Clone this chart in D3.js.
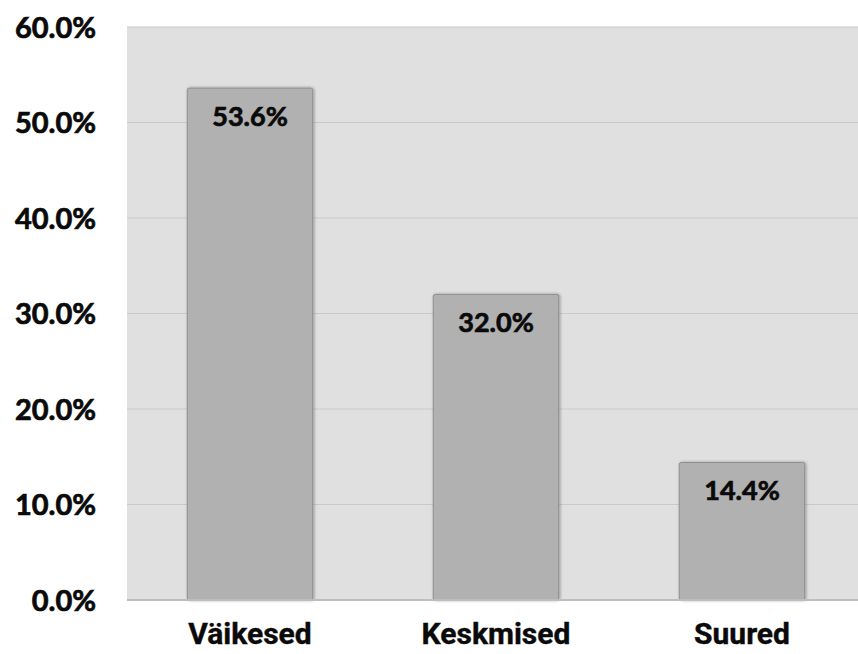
<!DOCTYPE html>
<html>
<head>
<meta charset="utf-8">
<script src="https://cdn.jsdelivr.net/npm/d3@7"></script>
<style>
  html, body { margin: 0; padding: 0; background: #fff; }
  svg { display: block; }
  .ytick text { font-family: Lato, "Open Sans", sans-serif; font-weight: 700; font-size: 29px; fill: #0a0a0a; stroke: #0a0a0a; stroke-width: 0.7px; }
  .xlab { font-family: Roboto, sans-serif; font-weight: 700; font-size: 30px; fill: #0a0a0a; stroke: #0a0a0a; stroke-width: 0.4px; }
  .val { font-family: Lato, "Open Sans", sans-serif; font-weight: 700; font-size: 27px; fill: #0a0a0a; stroke: #0a0a0a; stroke-width: 0.7px; }
</style>
</head>
<body>
<svg id="chart" width="858" height="654"></svg>
<script>
// data
const categories = ['Väikesed', 'Keskmised', 'Suured'];
const shares = [53.6, 32.0, 14.4];
const yTicks = [0, 10, 20, 30, 40, 50, 60];

const W = 858, H = 654;
const m = { left: 127, top: 27, right: -7, bottom: 54 };
const svg = d3.select('#chart');

const x = d3.scaleBand().domain(categories).range([m.left, W - m.right]).paddingInner(0.49).paddingOuter(0.245);
const y = d3.scaleLinear().domain([0, 60]).range([H - m.bottom, m.top]);

const defs = svg.append('defs');
const f = defs.append('filter').attr('id', 'shadow').attr('x', '-10%').attr('y', '-10%').attr('width', '120%').attr('height', '120%');
f.append('feDropShadow').attr('dx', 1).attr('dy', 0).attr('stdDeviation', 1.5).attr('flood-color', '#000').attr('flood-opacity', 0.35);

// plot background
svg.append('rect')
  .attr('x', m.left).attr('y', y(60))
  .attr('width', W - m.left).attr('height', y(0) - y(60))
  .attr('fill', '#e0e0e0');

// gridlines
svg.append('g').selectAll('line').data(yTicks.filter(d => d > 0)).join('line')
  .attr('x1', m.left).attr('x2', W)
  .attr('y1', d => y(d)).attr('y2', d => y(d))
  .attr('stroke', '#c9c9c9').attr('stroke-width', 1.2);

// bars
svg.append('g').selectAll('rect').data(shares).join('rect')
  .attr('x', (d, i) => x(categories[i]))
  .attr('y', d => y(d))
  .attr('width', x.bandwidth())
  .attr('height', d => y(0) - y(d))
  .attr('rx', 2)
  .attr('fill', '#b1b1b1')
  .attr('stroke', '#8e8e8e')
  .attr('stroke-width', 1)
  .attr('filter', 'url(#shadow)');

// baseline
svg.append('line')
  .attr('x1', m.left).attr('x2', W)
  .attr('y1', y(0)).attr('y2', y(0))
  .attr('stroke', '#bdbdbd').attr('stroke-width', 2);

// value labels
svg.append('g').selectAll('text').data(shares).join('text')
  .attr('class', 'val')
  .attr('x', (d, i) => x(categories[i]) + x.bandwidth() / 2)
  .attr('y', d => y(d) + 38)
  .attr('text-anchor', 'middle')
  .text(d => d.toFixed(1) + '%');

// y axis labels
const yAxis = svg.append('g')
  .attr('class', 'ytick')
  .attr('transform', `translate(${m.left},0)`)
  .call(d3.axisLeft(y).tickValues(yTicks).tickFormat(d => d.toFixed(1) + '%').tickSize(0).tickPadding(31));
yAxis.select('.domain').remove();
yAxis.selectAll('text').attr('dy', '0.35em');

// category labels
svg.append('g').selectAll('text').data(categories).join('text')
  .attr('class', 'xlab')
  .attr('x', d => x(d) + x.bandwidth() / 2)
  .attr('y', H - 10)
  .attr('text-anchor', 'middle')
  .text(d => d);
</script>
</body>
</html>
